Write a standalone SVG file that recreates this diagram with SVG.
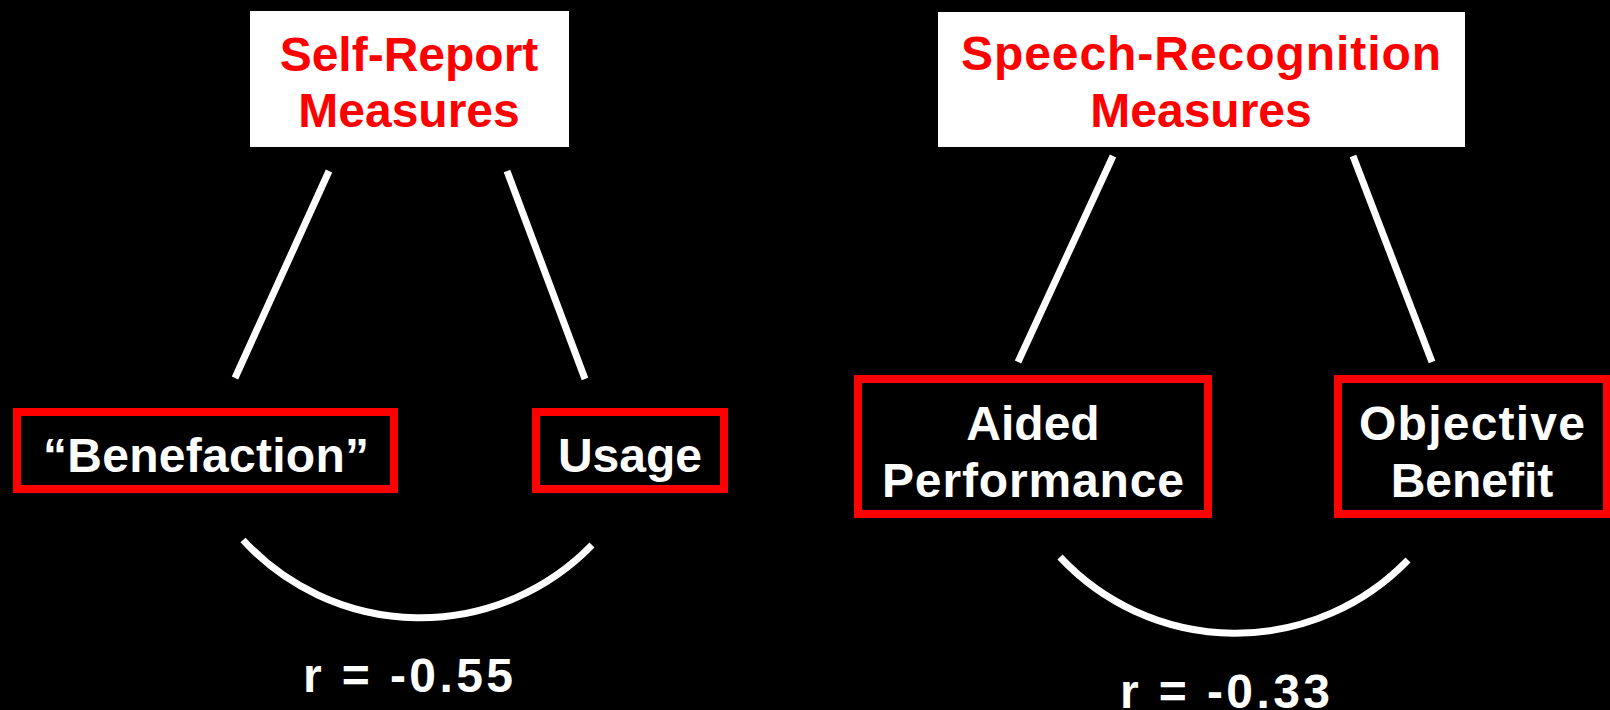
<svg xmlns="http://www.w3.org/2000/svg" width="1610" height="710" viewBox="0 0 1610 710">
  <style>
    text { font-family: "Liberation Sans", Arial, sans-serif; font-weight: bold; font-size: 48px; text-anchor: middle; }
    .hdr { fill: #ff0000; }
    .lbl { fill: #ffffff; }
    .hbox { fill: #ffffff; stroke: none; }
    .nbox { fill: #000000; stroke: #ff0000; stroke-width: 8; }
    .conn { fill: none; stroke: #ffffff; stroke-width: 7; }
  </style>
  <rect x="0" y="0" width="1610" height="710" fill="#000000"/>

  <g id="connectors">
    <line class="conn" x1="329" y1="171" x2="235" y2="378"/>
    <line class="conn" x1="507" y1="171" x2="585" y2="379"/>
    <line class="conn" x1="1113" y1="156" x2="1018" y2="362"/>
    <line class="conn" x1="1353" y1="156" x2="1432" y2="362"/>
    <path class="conn" d="M 243 540 A 240 240 0 0 0 592 545"/>
    <path class="conn" d="M 1060 557 A 240 240 0 0 0 1408 560"/>
  </g>

  <g id="self-report">
    <rect class="hbox" x="250" y="11" width="319" height="136"/>
    <text class="hdr" x="409" y="71" font-size="50">Self-Report</text>
    <text class="hdr" x="409" y="127" font-size="50">Measures</text>
  </g>

  <g id="speech-recognition">
    <rect class="hbox" x="938" y="12" width="527" height="135"/>
    <text class="hdr" x="1201" y="70" textLength="480" lengthAdjust="spacing">Speech-Recognition</text>
    <text class="hdr" x="1201" y="127">Measures</text>
  </g>

  <g id="benefaction">
    <rect class="nbox" x="17" y="412" width="377" height="77"/>
    <text class="lbl" x="206" y="472" textLength="326" lengthAdjust="spacing">“Benefaction”</text>
  </g>

  <g id="usage">
    <rect class="nbox" x="536" y="412" width="188" height="77"/>
    <text class="lbl" x="630" y="472">Usage</text>
  </g>

  <g id="aided-performance">
    <rect class="nbox" x="858" y="379" width="350" height="135"/>
    <text class="lbl" x="1033" y="440">Aided</text>
    <text class="lbl" x="1033" y="497" textLength="302" lengthAdjust="spacing">Performance</text>
  </g>

  <g id="objective-benefit">
    <rect class="nbox" x="1338" y="379" width="269" height="135"/>
    <text class="lbl" x="1472" y="440" textLength="226" lengthAdjust="spacing">Objective</text>
    <text class="lbl" x="1472" y="497">Benefit</text>
  </g>

  <g id="correlations">
    <text class="lbl" x="408" y="692" textLength="210" lengthAdjust="spacing">r = -0.55</text>
    <text class="lbl" x="1225" y="708" textLength="210" lengthAdjust="spacing">r = -0.33</text>
  </g>
</svg>
